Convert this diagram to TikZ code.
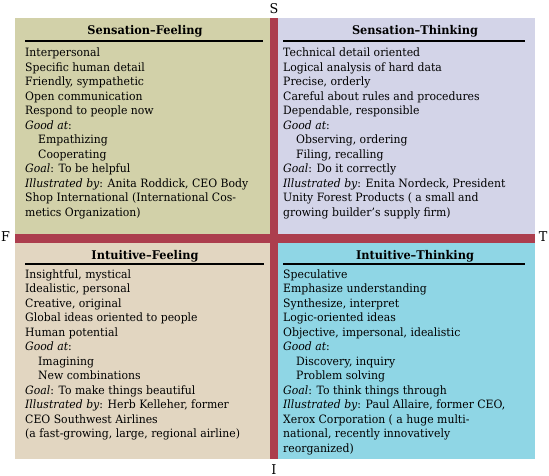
\documentclass[tikz,border=0pt]{standalone}
\usepackage{fontspec}
\setmainfont{DejaVu Serif}[FakeStretch=0.945]
\definecolor{sfcol}{HTML}{D2D1A9}
\definecolor{stcol}{HTML}{D3D4E8}
\definecolor{ifcol}{HTML}{E2D6C1}
\definecolor{itcol}{HTML}{8FD6E5}
\definecolor{barcol}{HTML}{AC3E4E}
\tikzset{
  body/.style={anchor=north west, inner sep=0pt, align=left, font=\fontsize{11.5}{14.5}\selectfont},
  qtitle/.style={anchor=base, inner sep=0pt, font=\fontsize{12}{14.5}\selectfont\bfseries},
  qrule/.style={line width=1.3pt},
  axislabel/.style={anchor=base, inner sep=0pt, font=\fontsize{13.5}{16}\selectfont}
}
\newcommand{\ind}{\hspace*{13pt}}
\begin{document}
\begin{tikzpicture}[x=1pt,y=-1pt]
\useasboundingbox (0,0) rectangle (549,476);
% quadrants
\fill[sfcol] (15,18) rectangle (270,234);
\fill[stcol] (278,18) rectangle (535,234);
\fill[ifcol] (15,243) rectangle (270,459);
\fill[itcol] (278,243) rectangle (535,459);
% bars
\fill[barcol] (270,18) rectangle (278,459);
\fill[barcol] (15,234) rectangle (535,243);
% axis labels
\node[axislabel] (S) at (274,13.5) {S};
\node[axislabel] (F) at (5.5,241.7) {F};
\node[axislabel] (T) at (543,241.7) {T};
\node[axislabel] (I) at (274,474) {I};
% titles and rules
\node[qtitle] (sft) at (145,34.5) {Sensation–Feeling};
\draw[qrule] (25,41) -- (263,41);
\node[qtitle] (stt) at (415,34.5) {Sensation–Thinking};
\draw[qrule] (283,41) -- (525,41);
\node[qtitle] (ift) at (145,259) {Intuitive–Feeling};
\draw[qrule] (25,264) -- (264,264);
\node[qtitle] (itt) at (415,259) {Intuitive–Thinking};
\draw[qrule] (283,264) -- (525,264);
% bodies
\node[body] (sfb) at (25,46.35) {\strut Interpersonal\\
Specific human detail\\
Friendly, sympathetic\\
Open communication\\
Respond to people now\\
\textit{Good at}:\\
\ind Empathizing\\
\ind Cooperating\\
\textit{Goal}: To be helpful\\
\textit{Illustrated by}: Anita Roddick, CEO Body\\
Shop International (International Cos-\\
metics Organization)};
\node[body] (stb) at (283,46.35) {\strut Technical detail oriented\\
Logical analysis of hard data\\
Precise, orderly\\
Careful about rules and procedures\\
Dependable, responsible\\
\textit{Good at}:\\
\ind Observing, ordering\\
\ind Filing, recalling\\
\textit{Goal}: Do it correctly\\
\textit{Illustrated by}: Enita Nordeck, President\\
Unity Forest Products ( a small and\\
growing builder's supply firm)};
\node[body] (ifb) at (25,267.85) {\strut Insightful, mystical\\
Idealistic, personal\\
Creative, original\\
Global ideas oriented to people\\
Human potential\\
\textit{Good at}:\\
\ind Imagining\\
\ind New combinations\\
\textit{Goal}: To make things beautiful\\
\textit{Illustrated by}: Herb Kelleher, former\\
CEO Southwest Airlines\\
(a fast-growing, large, regional airline)};
\node[body] (itb) at (283,267.85) {\strut Speculative\\
Emphasize understanding\\
Synthesize, interpret\\
Logic-oriented ideas\\
Objective, impersonal, idealistic\\
\textit{Good at}:\\
\ind Discovery, inquiry\\
\ind Problem solving\\
\textit{Goal}: To think things through\\
\textit{Illustrated by}: Paul Allaire, former CEO,\\
Xerox Corporation ( a huge multi-\\
national, recently innovatively\\
reorganized)};
\end{tikzpicture}
\end{document}
